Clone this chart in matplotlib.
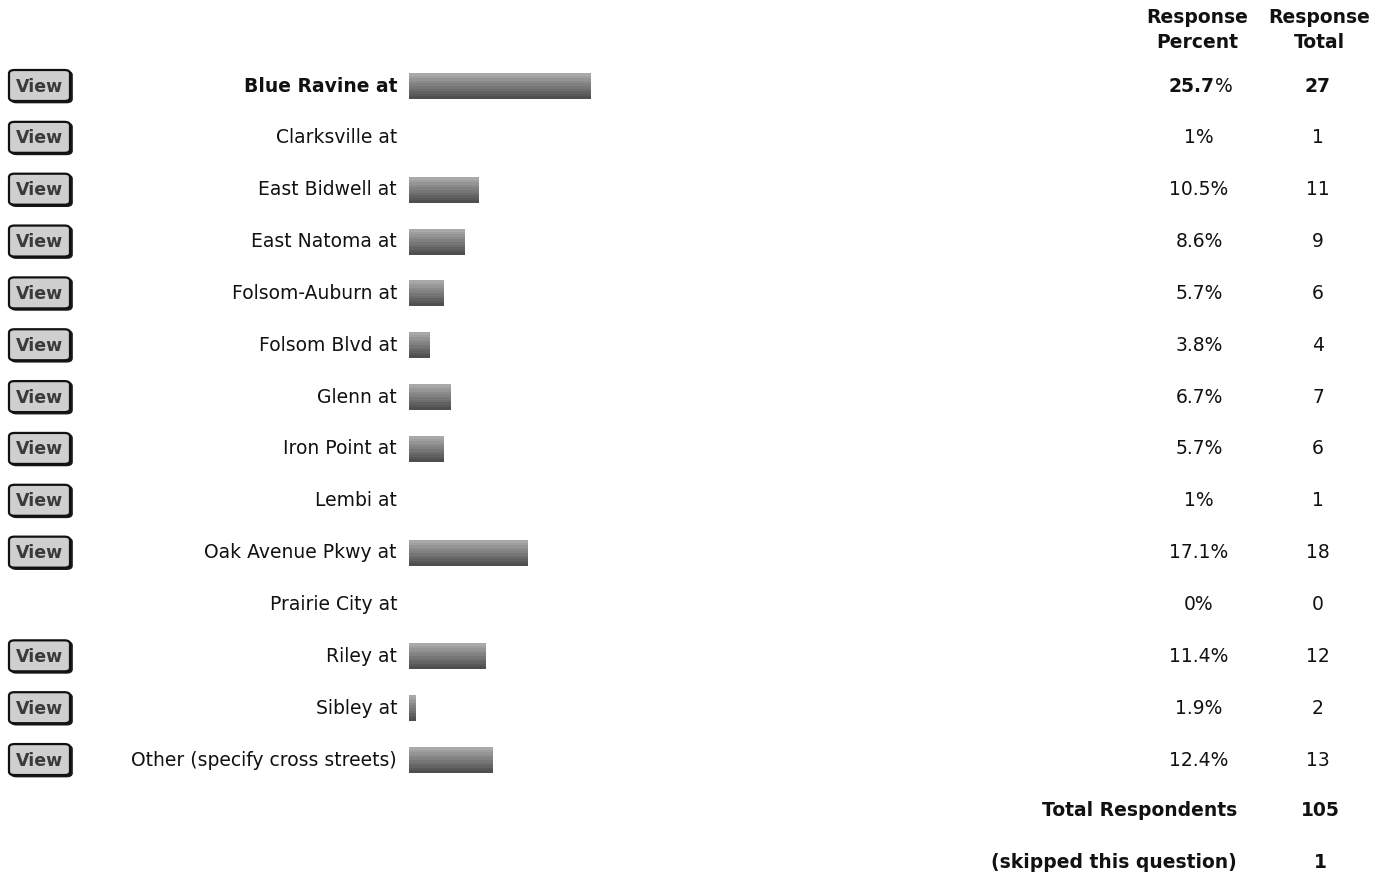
import numpy as np
import matplotlib
matplotlib.use("Agg")
import matplotlib.pyplot as plt
from matplotlib.patches import FancyBboxPatch
import matplotlib.transforms as mtransforms

# ---------------- data ----------------
categories = ["Blue Ravine at", "Clarksville at", "East Bidwell at", "East Natoma at",
              "Folsom-Auburn at", "Folsom Blvd at", "Glenn at", "Iron Point at",
              "Lembi at", "Oak Avenue Pkwy at", "Prairie City at", "Riley at",
              "Sibley at", "Other (specify cross streets)"]
percents = [25.7, 1, 10.5, 8.6, 5.7, 3.8, 6.7, 5.7, 1, 17.1, 0, 11.4, 1.9, 12.4]
percent_labels = ["25.7%", "1%", "10.5%", "8.6%", "5.7%", "3.8%", "6.7%", "5.7%",
                  "1%", "17.1%", "0%", "11.4%", "1.9%", "12.4%"]
counts = [27, 1, 11, 9, 6, 4, 7, 6, 1, 18, 0, 12, 2, 13]
header_percent = "Response\nPercent"
header_total = "Response\nTotal"
total_label = "Total Respondents"
total_value = 105
skipped_label = "(skipped this question)"
skipped_value = 1
button_label = "View"

# ---------------- layout ----------------
W, H = 1387, 876
fig = plt.figure(figsize=(W / 100, H / 100), dpi=100)
fig.patch.set_facecolor("white")

n = len(categories)
row0 = 86.0      # pixel y of first row centre
dy = 51.85       # pixel spacing between rows
bar_x0, bar_x1 = 409, 591  # pixel span of the axis range
ax_top = row0 - dy / 2
ax_bot = row0 + dy * (n - 0.5)
ax = fig.add_axes([bar_x0 / W, 1 - ax_bot / H, (bar_x1 - bar_x0) / W, (ax_bot - ax_top) / H])
ax.set_axis_off()

bar_h = 26 / dy
grad = np.linspace(0, 1, 10).reshape(-1, 1)
cmap = matplotlib.colors.LinearSegmentedColormap.from_list("g", ["#a9a9a9", "#4f4f4f"])
for i, p in enumerate(percents):
    if p <= 0:
        continue
    ax.imshow(grad, cmap=cmap, aspect="auto", interpolation="nearest",
              extent=[0, p, i + bar_h / 2, i - bar_h / 2], zorder=2)
ax.set_xlim(1.0, max(percents))
ax.set_ylim(n - 0.5, -0.5)

fs = 13.5
tc = "#111111"
trans = mtransforms.blended_transform_factory(fig.transFigure, ax.transData)
top_idx = int(np.argmax(counts))
for i, cat in enumerate(categories):
    bold = (i == top_idx)
    w = "bold" if bold else "normal"
    ax.text(397 / W, i, cat, transform=trans, ha="right", va="center",
            fontsize=fs, fontweight=w, color=tc)
    if bold:
        num, pct = percent_labels[i][:-1], "%"
        ax.text(1215 / W, i, num, transform=trans, ha="right", va="center",
                fontsize=fs, fontweight="bold", color=tc)
        ax.text(1215 / W, i, pct, transform=trans, ha="left", va="center",
                fontsize=fs, color=tc)
    else:
        ax.text(1199 / W, i, percent_labels[i], transform=trans, ha="center",
                va="center", fontsize=fs, color=tc)
    ax.text(1318 / W, i, str(counts[i]), transform=trans, ha="center", va="center",
            fontsize=fs, fontweight=w, color=tc)

    # View button
    if counts[i] > 0:
        yc = row0 + dy * i
        bx, by, bw, bh = 9, yc - 16, 61, 31
        shadow = FancyBboxPatch(((bx + 2) / W, 1 - (by + bh + 1.5) / H), bw / W, bh / H,
                                boxstyle="round,pad=0,rounding_size=0.004",
                                transform=fig.transFigure, facecolor="#1a1a1a",
                                edgecolor="#1a1a1a", linewidth=1.2)
        fig.patches.append(shadow)
        btn = FancyBboxPatch((bx / W, 1 - (by + bh) / H), bw / W, bh / H,
                             boxstyle="round,pad=0,rounding_size=0.004",
                             transform=fig.transFigure, facecolor="#cfcfcf",
                             edgecolor="#111111", linewidth=1.6)
        fig.patches.append(btn)
        fig.text((bx + bw / 2) / W, 1 - (by + bh / 2 + 1) / H, button_label,
                 ha="center", va="center", fontsize=12.5, fontweight="bold",
                 color="#3a3a3a")

# headers
fig.text(1197 / W, 1 - 30 / H, header_percent, ha="center", va="center",
         fontsize=fs, fontweight="bold", linespacing=1.35, color=tc)
fig.text(1319 / W, 1 - 30 / H, header_total, ha="center", va="center",
         fontsize=fs, fontweight="bold", linespacing=1.35, color=tc)

# totals
fig.text(1237 / W, 1 - 811 / H, total_label, ha="right", va="center",
         fontsize=fs, fontweight="bold", color=tc)
fig.text(1320 / W, 1 - 811 / H, str(total_value), ha="center", va="center",
         fontsize=fs, fontweight="bold", color=tc)
fig.text(1237 / W, 1 - 863 / H, skipped_label, ha="right", va="center",
         fontsize=fs, fontweight="bold", color=tc)
fig.text(1320 / W, 1 - 863 / H, str(skipped_value), ha="center", va="center",
         fontsize=fs, fontweight="bold", color=tc)

fig.savefig("out.png", dpi=100, facecolor="white")
